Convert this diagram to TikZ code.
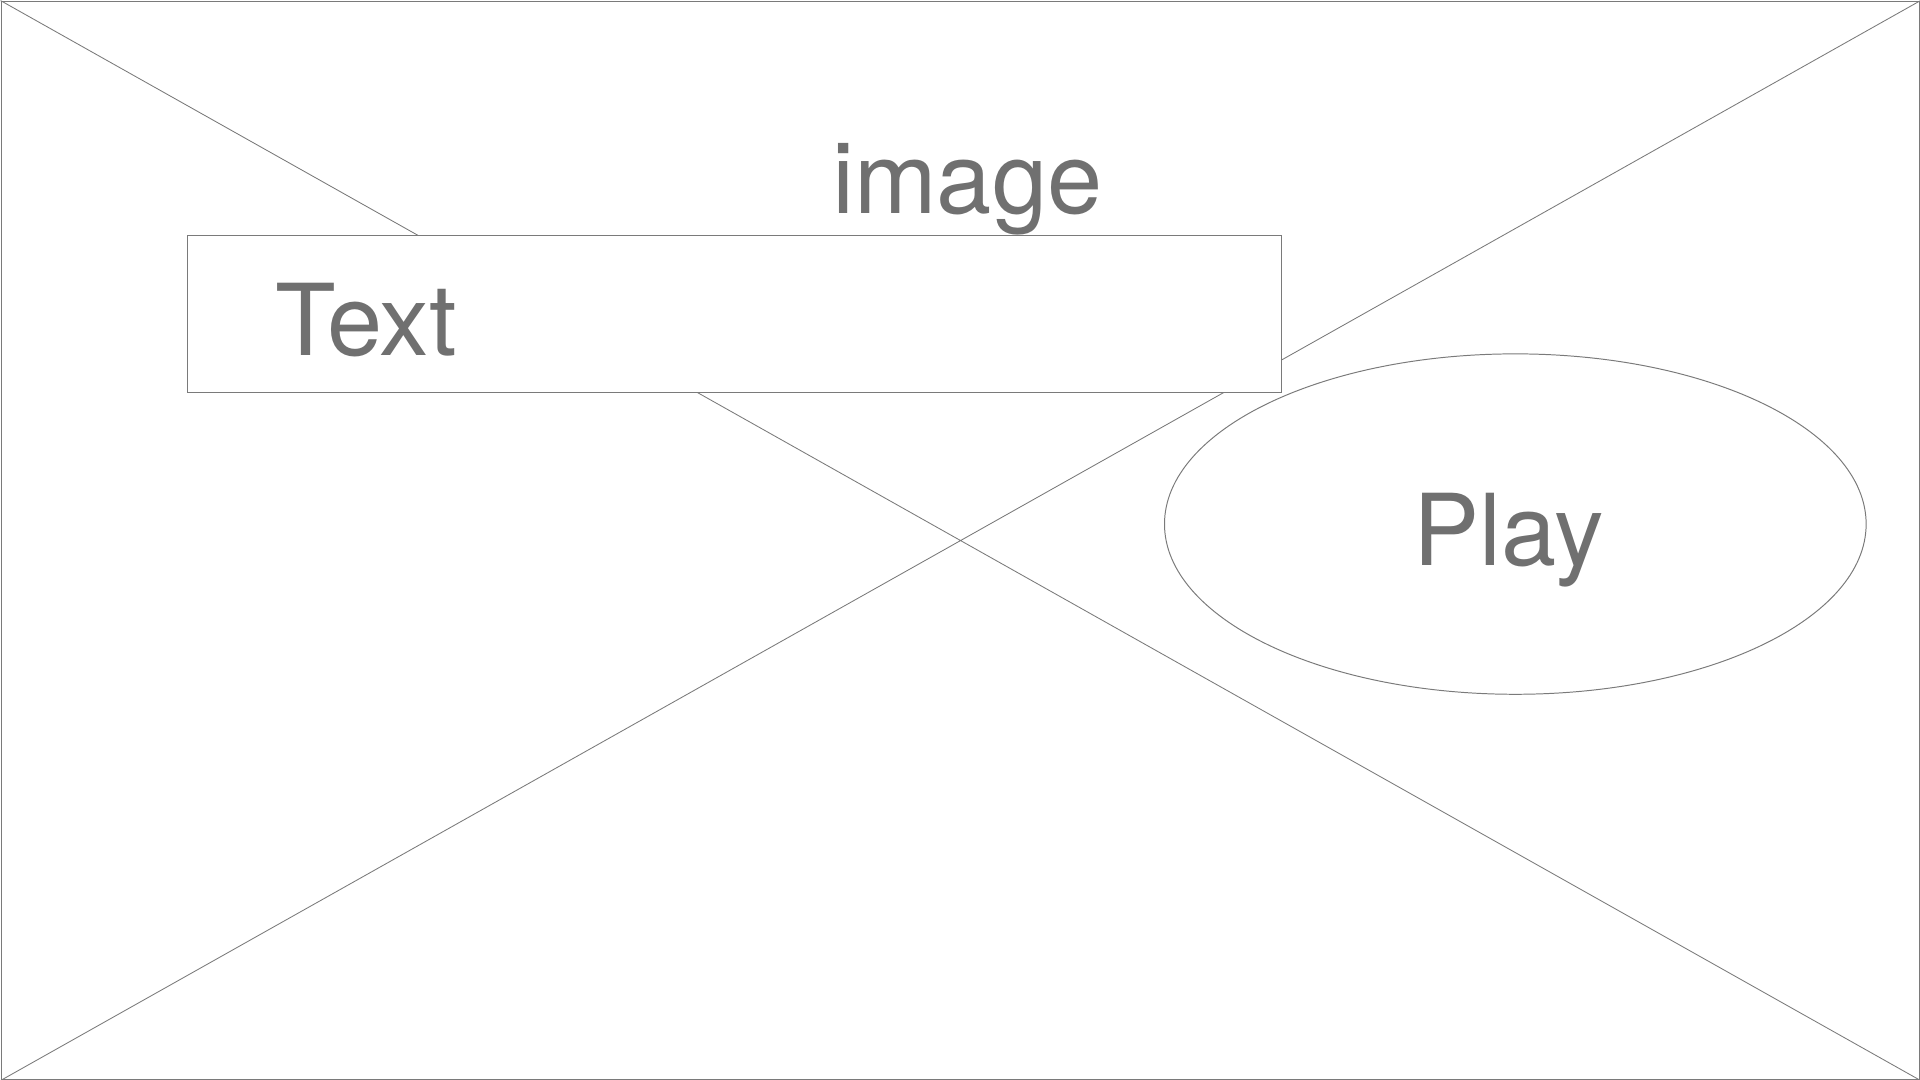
\documentclass[tikz,border=0pt]{standalone}
\usepackage{fontspec}
\setmainfont{TeX Gyre Heros}
\usepackage{tikz}
\usetikzlibrary{shapes.geometric, positioning}
\definecolor{wireline}{HTML}{7A7A7A}
\definecolor{wiretext}{HTML}{707070}
\tikzset{
    x=1pt, y=-1pt, % one unit per pixel, y going down
    frame/.style={draw=wireline, line width=0.9pt, minimum width=1567pt, minimum height=881pt, inner sep=0pt}, % the image placeholder
    cross/.style={draw=wireline, line width=0.7pt}, % the diagonals of the placeholder
    textbox/.style={draw=wireline, fill=white, line width=0.9pt, minimum width=893pt, minimum height=128pt, inner sep=0pt}, % the text field
    playbtn/.style={ellipse, draw=wireline, line width=0.8pt, minimum width=573pt, minimum height=278pt, inner sep=0pt}, % the play button
    lbl/.style={text=wiretext, font=\fontsize{81}{97}\selectfont, inner sep=0pt}, % labels
}
\begin{document}
\begin{tikzpicture}
    \useasboundingbox (0,0) rectangle (1568,882);
    \node[frame, anchor=north west] (img) at (0.5,0.5) {};
    \draw[cross] (img.north west) -- (img.south east)
                 (img.south west) -- (img.north east);
    \node[textbox, anchor=north west] (field) at (153,192) {};
    \node[lbl, anchor=base west] (fieldtext) at (225,290) {Text};
    \node[lbl, anchor=base] (imgtext) at (790,174) {image};
    \node[playbtn] (play) at (1237.5,428) {};
    \node[lbl, anchor=base] (playtext) at (1232,462) {Play};
\end{tikzpicture}
\end{document}
